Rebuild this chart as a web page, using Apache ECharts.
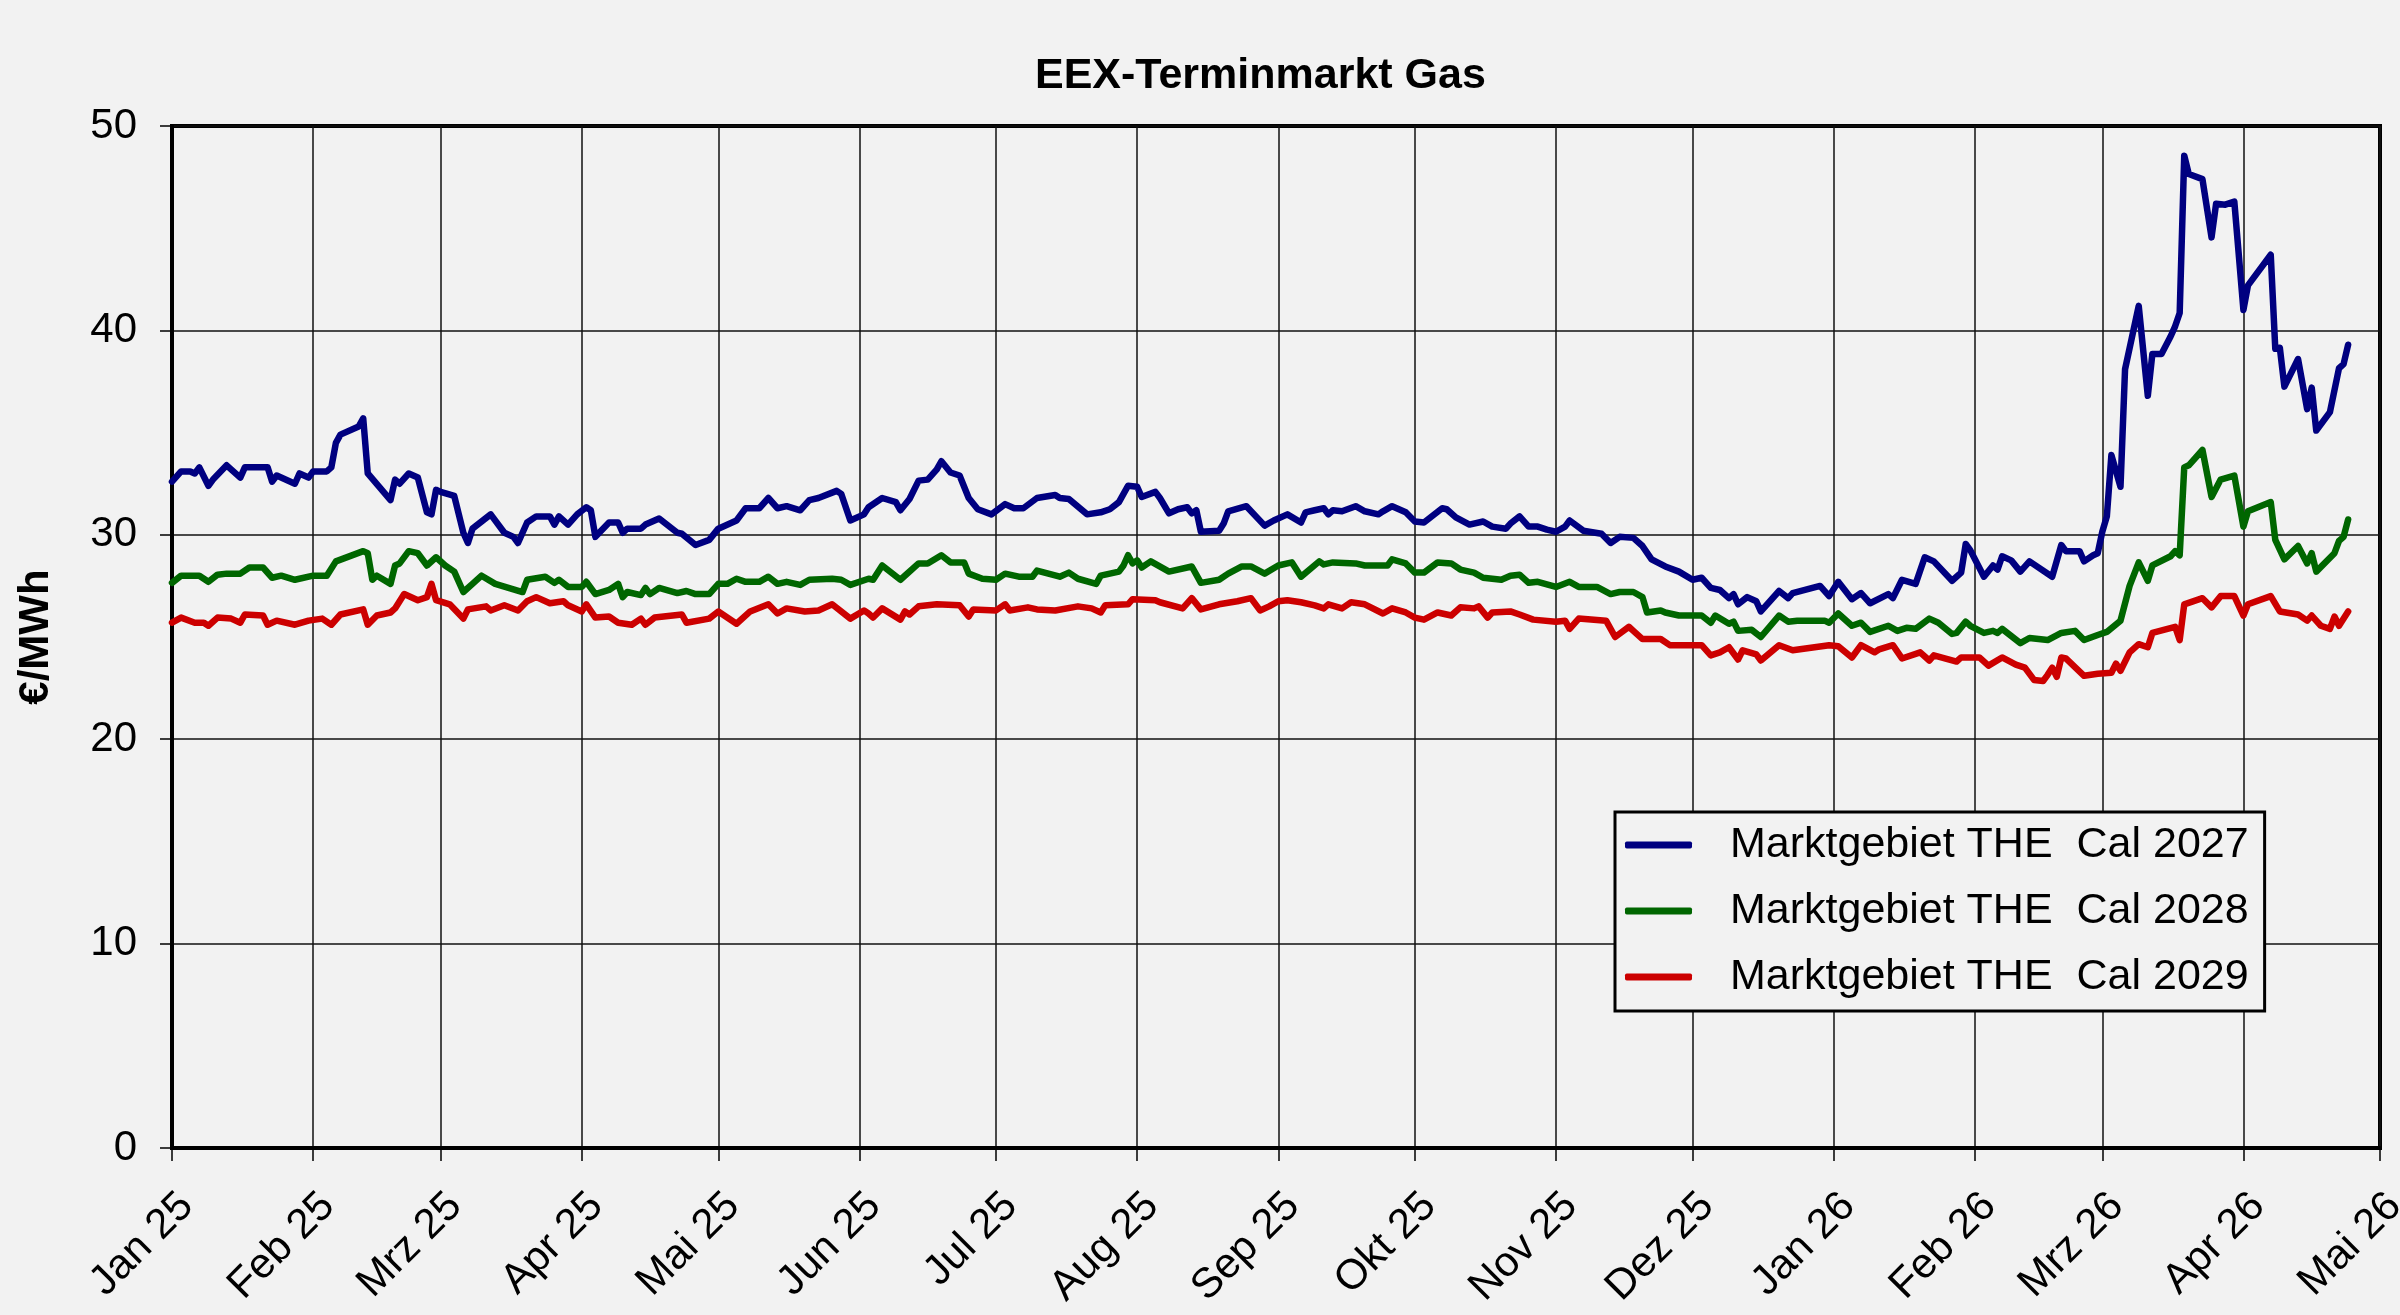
<!DOCTYPE html>
<html>
<head>
<meta charset="utf-8">
<title>EEX-Terminmarkt Gas</title>
<script src="https://cdn.jsdelivr.net/npm/echarts@6/dist/echarts.min.js"></script>
<style>
  html, body { margin: 0; padding: 0; background: #f2f2f2; }
  #chart { width: 2400px; height: 1315px; }
</style>
</head>
<body>
<div id="chart"></div>
<script>
// x values are days counted from 1 Jan 2025
var seriesNames = ['Marktgebiet THE  Cal 2027', 'Marktgebiet THE  Cal 2028', 'Marktgebiet THE  Cal 2029'];
var monthNames = ['Jan', 'Feb', 'Mrz', 'Apr', 'Mai', 'Jun', 'Jul', 'Aug', 'Sep', 'Okt', 'Nov', 'Dez'];
var yTicks = [0, 10, 20, 30, 40, 50];

var cal2027 = [
  [0,32.6],[2,33.1],[4,33.1],[5,33.0],[6,33.3],[8,32.4],[9,32.7],[12,33.4],[15,32.8],[16,33.3],[21,33.3],[22,32.6],
  [23,32.9],[27,32.5],[28,33.0],[30,32.8],[31,33.1],[34,33.1],[35,33.3],[36,34.5],[37,34.9],[41,35.3],[42,35.7],[43,33.0],
  [48,31.7],[49,32.7],[50,32.5],[52,33.0],[54,32.8],[56,31.1],[57,31.0],[58,32.2],[59,32.1],[62,31.9],[64,30.1],[65,29.6],
  [66,30.3],[70,31.0],[73,30.1],[75,29.9],[76,29.6],[78,30.6],[80,30.9],[83,30.9],[84,30.5],[85,30.9],[87,30.5],[89,31.0],
  [91,31.35],[92,31.2],[93,29.9],[96,30.6],[98,30.6],[99,30.1],[100,30.3],[103,30.3],[104,30.5],[107,30.8],[111,30.1],[112,30.05],
  [115,29.5],[118,29.75],[120,30.3],[124,30.7],[126,31.3],[129,31.3],[131,31.8],[133,31.3],[135,31.4],[138,31.2],[140,31.7],[142,31.8],
  [146,32.15],[147,32.0],[149,30.7],[152,31.0],[153,31.35],[156,31.8],[159,31.6],[160,31.2],[162,31.75],[164,32.65],[166,32.7],[168,33.2],
  [169,33.6],[171,33.05],[173,32.9],[175,31.8],[177,31.25],[180,31.0],[183,31.5],[185,31.3],[187,31.3],[190,31.8],[194,31.95],[195,31.8],
  [197,31.75],[201,31.0],[204,31.1],[206,31.25],[208,31.6],[210,32.4],[212,32.35],[213,31.85],[216,32.1],[217,31.8],[219,31.05],[221,31.25],
  [223,31.35],[224,31.05],[225,31.2],[226,30.15],[230,30.2],[231,30.55],[232,31.15],[236,31.4],[240,30.45],[242,30.7],[245,31.0],[248,30.6],
  [249,31.1],[251,31.2],[253,31.3],[254,31.0],[255,31.2],[257,31.15],[260,31.4],[262,31.15],[265,31.0],[266,31.15],[268,31.4],[271,31.1],
  [273,30.65],[275,30.6],[279,31.3],[280,31.25],[282,30.85],[285,30.5],[288,30.65],[290,30.4],[293,30.3],[294,30.55],[296,30.9],[298,30.4],
  [300,30.4],[302,30.25],[304,30.15],[306,30.4],[307,30.7],[310,30.2],[314,30.05],[316,29.6],[318,29.9],[321,29.85],[323,29.45],[325,28.8],
  [328,28.45],[331,28.2],[334,27.8],[336,27.9],[338,27.4],[340,27.3],[342,26.9],[343,27.1],[344,26.6],[346,26.95],[348,26.75],[349,26.25],
  [353,27.25],[355,26.9],[356,27.15],[362,27.5],[364,27.0],[366,27.7],[369,26.85],[371,27.15],[373,26.65],[377,27.1],[378,26.9],[380,27.8],
  [383,27.6],[385,28.9],[387,28.7],[391,27.75],[393,28.15],[394,29.55],[395,29.25],[398,27.95],[400,28.5],[401,28.3],[402,28.95],[404,28.75],
  [406,28.2],[408,28.7],[413,27.95],[415,29.5],[416,29.2],[419,29.2],[420,28.7],[422,29.0],[423,29.1],[424,30.15],[425,30.9],[426,33.9],
  [428,32.35],[429,38.1],[432,41.2],[434,36.8],[435,38.85],[437,38.85],[439,39.7],[440,40.2],[441,40.85],[442,48.55],[443,47.65],[446,47.4],
  [448,44.55],[449,46.2],[451,46.15],[453,46.3],[455,41.0],[456,42.2],[461,43.7],[462,39.1],[463,39.15],[464,37.25],[467,38.6],[469,36.15],
  [470,37.2],[471,35.1],[474,36.0],[476,38.15],[477,38.35],[478,39.3]
];

var cal2028 = [
  [0,27.65],[2,28.0],[6,28.0],[8,27.7],[10,28.05],[12,28.1],[15,28.1],[17,28.4],[20,28.4],[22,27.9],[24,28.0],[27,27.8],
  [31,28.0],[34,28.0],[36,28.7],[42,29.2],[43,29.1],[44,27.8],[45,28.0],[48,27.6],[49,28.5],[50,28.6],[52,29.2],[54,29.1],
  [56,28.5],[58,28.9],[60,28.5],[62,28.2],[64,27.2],[66,27.6],[68,28.0],[71,27.6],[77,27.2],[78,27.8],[82,27.95],[84,27.65],
  [85,27.8],[87,27.45],[90,27.45],[91,27.7],[93,27.1],[96,27.3],[98,27.6],[99,26.95],[100,27.2],[103,27.05],[104,27.4],[105,27.1],
  [107,27.4],[111,27.15],[113,27.25],[115,27.1],[118,27.1],[120,27.6],[122,27.6],[124,27.85],[126,27.7],[129,27.7],[131,27.95],[133,27.6],
  [135,27.7],[138,27.55],[140,27.8],[145,27.85],[147,27.8],[149,27.55],[153,27.85],[154,27.8],[156,28.5],[160,27.8],[164,28.6],[166,28.6],
  [169,29.0],[171,28.65],[174,28.65],[175,28.1],[178,27.85],[181,27.8],[183,28.1],[186,27.95],[189,27.95],[190,28.25],[195,27.95],[197,28.15],
  [199,27.85],[203,27.6],[204,28.0],[208,28.2],[209,28.5],[210,29.0],[211,28.6],[212,28.75],[213,28.4],[215,28.7],[219,28.2],[224,28.45],
  [226,27.65],[230,27.8],[232,28.1],[235,28.45],[237,28.45],[240,28.1],[243,28.5],[246,28.65],[248,27.95],[252,28.7],[253,28.55],[255,28.65],
  [260,28.6],[262,28.5],[267,28.5],[268,28.8],[271,28.6],[273,28.15],[275,28.15],[278,28.65],[281,28.6],[283,28.3],[286,28.15],[288,27.9],
  [292,27.8],[294,28.0],[296,28.05],[298,27.65],[300,27.7],[304,27.45],[307,27.7],[309,27.45],[313,27.45],[316,27.1],[318,27.2],[321,27.2],
  [323,26.95],[324,26.2],[327,26.3],[328,26.2],[331,26.05],[336,26.05],[338,25.7],[339,26.05],[342,25.65],[343,25.75],[344,25.3],[347,25.35],
  [349,25.0],[353,26.05],[355,25.75],[357,25.8],[363,25.8],[364,25.7],[366,26.15],[369,25.55],[371,25.7],[373,25.25],[377,25.55],[379,25.3],
  [381,25.45],[383,25.4],[386,25.9],[388,25.7],[391,25.15],[392,25.2],[394,25.75],[395,25.55],[398,25.2],[400,25.3],[401,25.2],[402,25.4],
  [406,24.7],[408,24.95],[412,24.85],[415,25.2],[418,25.3],[420,24.85],[423,25.1],[425,25.25],[428,25.8],[430,27.5],[432,28.65],[434,27.75],
  [435,28.5],[439,28.95],[440,29.2],[441,29.0],[442,33.3],[443,33.4],[446,34.15],[448,31.85],[450,32.7],[453,32.9],[455,30.4],[456,31.15],
  [461,31.6],[462,29.75],[464,28.8],[467,29.45],[469,28.6],[470,29.1],[471,28.2],[475,29.1],[476,29.7],[477,29.9],[478,30.75]
];

var cal2029 = [
  [0,25.7],[2,25.95],[5,25.7],[7,25.7],[8,25.55],[10,25.95],[13,25.9],[15,25.7],[16,26.1],[20,26.05],[21,25.6],[23,25.8],
  [27,25.6],[30,25.8],[33,25.9],[35,25.6],[37,26.1],[42,26.35],[43,25.6],[45,26.05],[48,26.2],[49,26.4],[51,27.1],[54,26.8],
  [56,26.95],[57,27.6],[58,26.8],[61,26.6],[64,25.9],[65,26.35],[69,26.5],[70,26.3],[73,26.55],[76,26.3],[78,26.75],[80,26.95],
  [83,26.65],[86,26.75],[87,26.55],[90,26.25],[91,26.6],[93,25.95],[96,26.0],[98,25.7],[101,25.6],[103,25.9],[104,25.6],[106,25.95],
  [112,26.1],[113,25.7],[118,25.9],[120,26.25],[124,25.65],[127,26.25],[131,26.6],[133,26.15],[135,26.4],[139,26.25],[142,26.3],[145,26.6],
  [149,25.9],[152,26.3],[153,26.15],[154,25.95],[156,26.4],[160,25.85],[161,26.25],[162,26.1],[164,26.5],[168,26.6],[173,26.55],[175,26.0],
  [176,26.35],[181,26.3],[183,26.6],[184,26.3],[188,26.45],[190,26.35],[194,26.3],[199,26.5],[202,26.4],[204,26.2],[205,26.55],[210,26.6],
  [211,26.85],[216,26.8],[217,26.7],[222,26.4],[224,26.9],[226,26.35],[230,26.6],[234,26.75],[237,26.9],[239,26.3],[241,26.5],[243,26.75],
  [245,26.8],[248,26.7],[251,26.55],[253,26.4],[254,26.6],[257,26.4],[259,26.7],[262,26.6],[266,26.15],[268,26.4],[271,26.2],[273,25.95],
  [275,25.85],[278,26.2],[281,26.05],[283,26.45],[286,26.4],[287,26.5],[289,25.95],[290,26.2],[294,26.25],[296,26.1],[299,25.85],[304,25.75],
  [306,25.8],[307,25.4],[309,25.9],[315,25.8],[317,25.0],[320,25.5],[321,25.3],[323,24.9],[327,24.9],[329,24.6],[336,24.6],[338,24.1],
  [340,24.25],[342,24.5],[344,23.9],[345,24.35],[348,24.15],[349,23.85],[353,24.6],[356,24.35],[364,24.6],[366,24.55],[369,24.0],[371,24.6],
  [374,24.25],[375,24.4],[378,24.6],[380,23.95],[384,24.25],[386,23.85],[387,24.1],[392,23.8],[393,24.0],[397,24.0],[399,23.6],[402,24.0],
  [405,23.65],[407,23.5],[409,22.9],[411,22.85],[412,23.15],[413,23.5],[414,23.05],[415,24.0],[416,23.95],[420,23.1],[423,23.2],[426,23.25],
  [427,23.7],[428,23.35],[430,24.25],[432,24.65],[434,24.5],[435,25.2],[440,25.5],[441,24.85],[442,26.6],[446,26.9],[448,26.45],[450,27.0],
  [453,27.0],[455,26.05],[456,26.6],[461,27.0],[463,26.25],[467,26.1],[469,25.8],[470,26.05],[472,25.55],[474,25.4],[475,26.0],[476,25.55],
  [478,26.25]
];

(function() {
  var font = '"Liberation Sans", Arial, sans-serif';
  var colors = ['#000080', '#006600', '#cc0000'];

  function toDates(arr) {
    return arr.map(function(p) { return [new Date(2025, 0, 1 + p[0]).getTime(), p[1]]; });
  }

  var chart = echarts.init(document.getElementById('chart'));
  chart.setOption({
    animation: false,
    backgroundColor: '#f2f2f2',
    title: {
      text: 'EEX-Terminmarkt Gas',
      left: 1030,
      top: 50,
      textStyle: { fontFamily: font, fontSize: 43, fontWeight: 'bold', color: '#000' }
    },
    legend: {
      orient: 'vertical',
      left: 1615,
      top: 812,
      icon: 'roundRect',
      itemWidth: 67,
      itemHeight: 7,
      itemGap: 16,
      padding: [8, 16, 9, 10],
      borderColor: '#000',
      borderWidth: 3,
      backgroundColor: '#f2f2f2',
      data: seriesNames,
      textStyle: { fontFamily: font, fontSize: 43, color: '#000', lineHeight: 50, padding: [0, 0, 0, 33] }
    },
    grid: {
      left: 172, right: 20, top: 126, bottom: 167,
      outerBoundsMode: 'none',
      show: true, borderColor: '#000', borderWidth: 4, backgroundColor: 'transparent'
    },
    xAxis: {
      type: 'time',
      min: new Date(2025, 0, 1).getTime(),
      max: new Date(2026, 4, 1).getTime(),
      minInterval: 28 * 86400000,
      maxInterval: 31 * 86400000,
      axisLine: { show: true, lineStyle: { color: '#000', width: 4 } },
      axisTick: { show: true, length: 13, lineStyle: { color: '#000', width: 1.5 } },
      splitLine: { show: true, lineStyle: { color: '#111', width: 1.5 } },
      axisLabel: {
        rotate: 45,
        margin: 37,
        verticalAlign: 'top',
        hideOverlap: false,
        showMinLabel: true,
        showMaxLabel: true,
        fontFamily: font,
        fontSize: 42,
        color: '#000',
        formatter: function(v) {
          var d = new Date(v);
          return monthNames[d.getMonth()] + ' ' + String(d.getFullYear()).slice(2);
        }
      }
    },
    yAxis: {
      type: 'value',
      min: yTicks[0],
      max: yTicks[yTicks.length - 1],
      interval: 10,
      name: '€/MWh',
      nameLocation: 'middle',
      nameGap: 115,
      nameTextStyle: { fontFamily: font, fontSize: 42, fontWeight: 'bold', color: '#000' },
      axisLine: { show: true, lineStyle: { color: '#000', width: 4 } },
      axisTick: { show: true, length: 12, lineStyle: { color: '#000', width: 1.5 } },
      splitLine: { show: true, lineStyle: { color: '#111', width: 1.5 } },
      axisLabel: { margin: 35, fontFamily: font, fontSize: 42, color: '#000' }
    },
    series: [cal2027, cal2028, cal2029].map(function(arr, i) {
      return {
        name: seriesNames[i],
        type: 'line',
        data: toDates(arr),
        showSymbol: false,
        symbol: 'none',
        color: colors[i],
        lineStyle: { color: colors[i], width: 6.5, join: 'round', cap: 'round' }
      };
    })
  });
  window.addEventListener('resize', function() { chart.resize(); });
})();
</script>
</body>
</html>
